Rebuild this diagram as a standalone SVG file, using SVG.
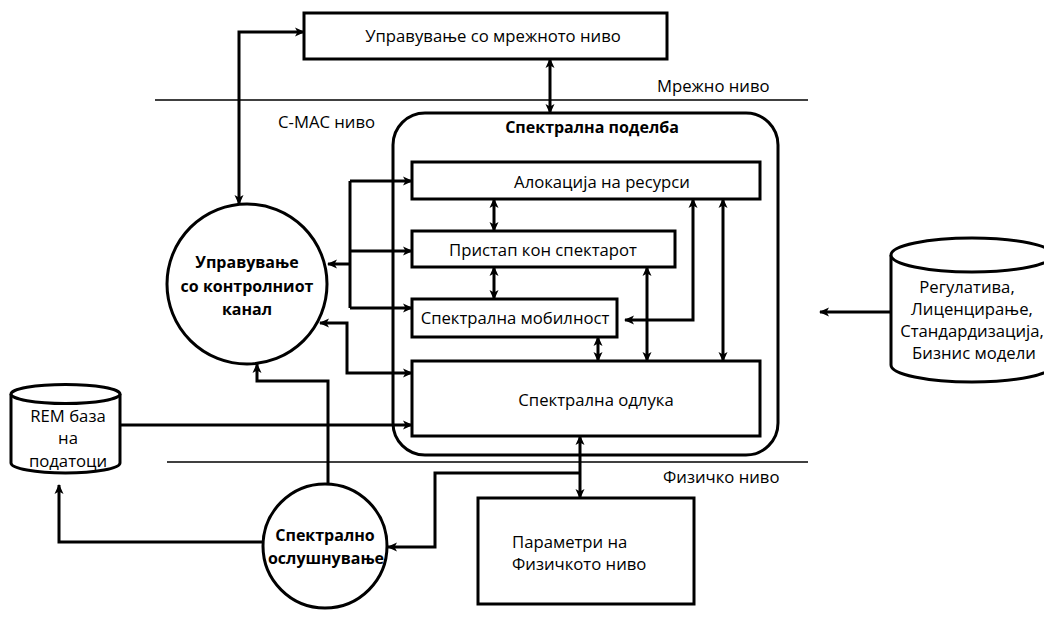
<svg xmlns="http://www.w3.org/2000/svg" width="1044" height="626" viewBox="0 0 1044 626">
  <defs>
    <marker id="ah" viewBox="0 0 10 10" refX="9" refY="5" markerWidth="10" markerHeight="10" markerUnits="userSpaceOnUse" orient="auto-start-reverse">
      <path d="M0,0.5 L10,5 L0,9.5 L2.5,5 z" fill="#000"/>
    </marker>
    <style>
      .box { fill: #fff; stroke: #000; stroke-width: 3; }
      .layer { stroke: #000; stroke-width: 1.3; fill: none; }
      .t { font-family: "Open Sans", "Liberation Sans", sans-serif; font-size: 16.7px; fill: #000; }
      .b { font-weight: bold; font-size: 16px; }
      .m { text-anchor: middle; }
      .c { fill: none; stroke: #000; stroke-width: 3; }
      .one { marker-end: url(#ah); }
      .two { marker-start: url(#ah); marker-end: url(#ah); }
    </style>
  </defs>
  <rect width="1044" height="626" fill="#fff"/>

  <!-- layer boundaries and labels -->
  <g id="layers">
    <line class="layer" x1="155" y1="100" x2="808" y2="100"/>
    <line class="layer" x1="167" y1="462" x2="808" y2="462"/>
    <text class="t" x="657" y="92">Мрежно ниво</text>
    <text class="t" x="278" y="128">C-MAC ниво</text>
    <text class="t" x="663" y="483">Физичко ниво</text>
  </g>

  <g id="network-mgmt">
    <rect class="box" x="304" y="13" width="363" height="46"/>
    <text class="t m" x="493" y="42">Управување со мрежното ниво</text>
  </g>

  <g id="spectrum-sharing">
    <rect class="box" x="393" y="113" width="385" height="342" rx="32"/>
    <text class="t b m" x="592" y="133">Спектрална поделба</text>
  </g>

  <g id="resource-allocation">
    <rect class="box" x="412" y="162" width="348" height="37"/>
    <text class="t m" x="602" y="188">Алокација на ресурси</text>
  </g>

  <g id="spectrum-access">
    <rect class="box" x="412" y="231" width="263" height="36"/>
    <text class="t m" x="543" y="256">Пристап кон спектарот</text>
  </g>

  <g id="spectrum-mobility">
    <rect class="box" x="412" y="299" width="205" height="38"/>
    <text class="t m" x="515" y="324">Спектрална мобилност</text>
  </g>

  <g id="spectrum-decision">
    <rect class="box" x="412" y="361" width="348" height="75"/>
    <text class="t m" x="596" y="406">Спектрална одлука</text>
  </g>

  <g id="control-channel">
    <circle class="box" cx="247" cy="284" r="80"/>
    <text class="t b m" x="247" y="268">Управување</text>
    <text class="t b m" x="247" y="292">со контролниот</text>
    <text class="t b m" x="247" y="315">канал</text>
  </g>

  <g id="spectrum-sensing">
    <circle class="box" cx="325" cy="546" r="62"/>
    <text class="t b m" x="325" y="541">Спектрално</text>
    <text class="t b m" x="326" y="564">ослушнување</text>
  </g>

  <g id="rem-db">
    <path class="box" d="M11,394 L11,463 A54.5,10 0 0 0 120,463 L120,394"/>
    <ellipse class="box" cx="65.5" cy="394" rx="54.5" ry="9.5"/>
    <text class="t m" x="68" y="422">REM база</text>
    <text class="t m" x="68" y="444">на</text>
    <text class="t m" x="68" y="467">податоци</text>
  </g>

  <g id="regulation-db">
    <path class="box" d="M891,255 L891,365 A81,17 0 0 0 1053,365 L1053,255"/>
    <ellipse class="box" cx="972" cy="255" rx="81" ry="17"/>
    <text class="t m" x="967" y="293">Регулатива,</text>
    <text class="t m" x="972" y="315">Лиценцирање,</text>
    <text class="t m" x="972" y="337">Стандардизација,</text>
    <text class="t m" x="974" y="359">Бизнис модели</text>
  </g>

  <g id="phy-params">
    <rect class="box" x="478" y="498" width="216" height="106"/>
    <text class="t" x="512" y="548">Параметри на</text>
    <text class="t" x="512" y="570">Физичкото ниво</text>
  </g>

  <!-- connectors -->
  <g id="connectors">
    <path class="c two" d="M239,204 L239,32 L304,32"/>
    <path class="c two" d="M550,59 L550,113"/>
    <path class="c one" d="M350,264 L328,264"/>
    <path class="c" d="M350,181 L350,308"/>
    <path class="c one" d="M350,181 L412,181"/>
    <path class="c one" d="M350,251 L412,251"/>
    <path class="c one" d="M350,308 L412,308"/>
    <path class="c two" d="M320,323 L347,323 L347,373 L412,373"/>
    <path class="c one" d="M120,425 L412,425"/>
    <path class="c one" d="M328,484 L328,381 L257,381 L257,364"/>
    <path class="c one" d="M263,542 L59,542 L59,485"/>
    <path class="c two" d="M580,436 L580,498"/>
    <path class="c one" d="M580,473 L435,473 L435,547 L388,547"/>
    <path class="c one" d="M891,312 L820,312"/>
    <path class="c two" d="M494,199 L494,231"/>
    <path class="c two" d="M494,267 L494,299"/>
    <path class="c two" d="M598,337 L598,361"/>
    <path class="c two" d="M647,267 L647,361"/>
    <path class="c two" d="M693,199 L693,320 L625,320"/>
    <path class="c two" d="M723,199 L723,361"/>
  </g>
</svg>
